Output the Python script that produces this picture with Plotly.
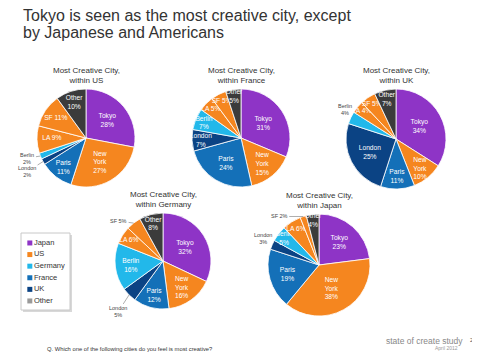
import math
import plotly.graph_objects as go

# The page body adds an 8px margin, so the figure is drawn OFF pixels in.
OFF = 8
W, H = 480 - OFF, 358 - OFF

cities = ["Tokyo", "New<br>York", "Paris", "London", "Berlin", "LA", "SF", "Other"]

us_vals = [28, 27, 11, 2, 2, 9, 11, 10]
france_vals = [31, 15, 24, 7, 7, 5, 5, 5]
uk_vals = [34, 10, 11, 25, 4, 4, 5, 7]
germany_vals = [32, 16, 12, 5, 16, 6, 5, 8]
japan_vals = [23, 38, 19, 3, 5, 6, 2, 4]

legend_names = ["Japan", "US", "Germany", "France", "UK", "Other"]

group_colors = {
    "Japan": "#8E34C6",
    "US": "#F5861F",
    "Germany": "#22B8EA",
    "France": "#1470B8",
    "UK": "#0B4384",
    "Other": "#3B3B3B",
}
slice_colors = [group_colors["Japan"], group_colors["US"], group_colors["France"],
                group_colors["UK"], group_colors["Germany"], group_colors["US"],
                group_colors["US"], group_colors["Other"]]
legend_colors = [group_colors[n] if n != "Other" else "#9A9A9A" for n in legend_names]

FONT = "Liberation Sans"


def px(x):
    return (x - OFF) / W


def py(y):
    return 1 - (y - OFF) / H


# pie layout in reference pixels: cx, cy, r, title, values, {slice index: label offset (dx, dy)}
pies = [
    (86, 138, 49, "Most Creative City,<br>within US", us_vals, {4: (-13, 2), 3: (-16, 10)}),
    (241, 138, 49, "Most Creative City,<br>within France", france_vals, {}),
    (396, 139, 50, "Most Creative City,<br>within UK", uk_vals, {4: (-6, -8)}),
    (163, 261, 48, "Most Creative City,<br>within Germany", germany_vals, {6: (-15, -2), 3: (-11, 17)}),
    (319, 265, 51, "Most Creative City,<br>within Japan", japan_vals, {6: (-24, 0), 3: (-9, -6)}),
]

fig = go.Figure()
annotations = []

for cx, cy, r, title, vals, outside in pies:
    texts = []
    for i, (c, v) in enumerate(zip(cities, vals)):
        if i in outside:
            texts.append("")
        elif c in ("LA", "SF"):
            texts.append(f"{c} {v}%")
        else:
            texts.append(f"{c}<br>{v}%")
    fig.add_trace(go.Pie(
        labels=[c.replace("<br>", " ") for c in cities],
        values=vals,
        text=texts,
        textinfo="text",
        textposition="inside",
        insidetextorientation="horizontal",
        sort=False,
        direction="clockwise",
        rotation=0,
        marker=dict(colors=slice_colors, line=dict(color="white", width=0.8)),
        insidetextfont=dict(color="white", size=7, family=FONT),
        domain=dict(x=[px(cx - r), px(cx + r)], y=[py(cy + r), py(cy - r)]),
        showlegend=False,
        hoverinfo="label+value",
    ))
    annotations.append(dict(
        x=px(cx), y=py(cy - r - 2), xref="paper", yref="paper",
        xanchor="center", yanchor="bottom", showarrow=False,
        text=title, font=dict(size=8, color="#333", family=FONT),
    ))
    # outside labels with leader lines for the thin slices
    total = sum(vals)
    cum = 0
    for i, v in enumerate(vals):
        mid = (cum + v / 2) / total * 2 * math.pi
        cum += v
        if i in outside:
            dx, dy = outside[i]
            ex = cx + r * math.sin(mid)
            ey = cy - r * math.cos(mid)
            annotations.append(dict(
                x=px(ex), y=py(ey), xref="paper", yref="paper",
                ax=dx, ay=dy, axref="pixel", ayref="pixel",
                showarrow=True, arrowhead=0, arrowwidth=0.6, arrowcolor="#777",
                text=f"{cities[i].replace('<br>', ' ')}<br>{v}%" if cities[i] not in ("LA", "SF") else f"{cities[i]} {v}%",
                font=dict(size=5.5, color="#444", family=FONT),
                standoff=0, startstandoff=0,
            ))

# legend drawn as a scatter on its own hidden axes
fig.add_trace(go.Scatter(
    x=[0.18] * len(legend_names), y=list(range(len(legend_names))),
    mode="markers+text", text=legend_names, textposition="middle right",
    textfont=dict(size=7.5, color="#333", family=FONT),
    marker=dict(symbol="square", size=5, color=legend_colors),
    showlegend=False, hoverinfo="text", cliponaxis=False,
))

shapes = [
    dict(type="rect", xref="paper", yref="paper",
         x0=px(23), x1=px(72), y0=py(312), y1=py(235),
         line=dict(width=0), fillcolor="#D8D8D8", layer="below"),
    dict(type="rect", xref="paper", yref="paper",
         x0=px(21), x1=px(70), y0=py(310), y1=py(233),
         line=dict(width=1, color="#C8C8C8"), fillcolor="white", layer="below"),
]

annotations += [
    dict(x=px(21), y=py(15), xref="paper", yref="paper", xanchor="left", yanchor="middle",
         showarrow=False, text="Tokyo is seen as the most creative city, except",
         font=dict(size=16, color="#333", family=FONT)),
    dict(x=px(21), y=py(32), xref="paper", yref="paper", xanchor="left", yanchor="middle",
         showarrow=False, text="by Japanese and Americans",
         font=dict(size=16, color="#333", family=FONT)),
    dict(x=px(45), y=py(349), xref="paper", yref="paper", xanchor="left", yanchor="middle",
         showarrow=False, text="Q. Which one of the following cities do you feel is most creative?",
         font=dict(size=5.8, color="#333", family=FONT)),
    dict(x=px(465), y=py(341), xref="paper", yref="paper", xanchor="right", yanchor="middle",
         showarrow=False, text="state of create study",
         font=dict(size=8.5, color="#888", family=FONT)),
    dict(x=px(473), y=py(340), xref="paper", yref="paper", xanchor="center", yanchor="middle",
         showarrow=False, text="21", font=dict(size=5.5, color="#555", family=FONT)),
    dict(x=px(460), y=py(348), xref="paper", yref="paper", xanchor="right", yanchor="middle",
         showarrow=False, text="April 2012", font=dict(size=5, color="#999", family=FONT)),
]

fig.update_layout(
    width=W, height=H,
    margin=dict(l=0, r=0, t=0, b=0),
    paper_bgcolor="white", plot_bgcolor="rgba(0,0,0,0)",
    xaxis=dict(visible=False, domain=[px(21), px(70)], range=[0, 1], fixedrange=True),
    yaxis=dict(visible=False, domain=[py(310), py(233)], range=[5.78, -0.86], fixedrange=True),
    annotations=annotations,
    shapes=shapes,
    uniformtext=dict(minsize=6.5, mode="show"),
    showlegend=False,
    font=dict(family=FONT),
)

fig.write_html("out.html")
